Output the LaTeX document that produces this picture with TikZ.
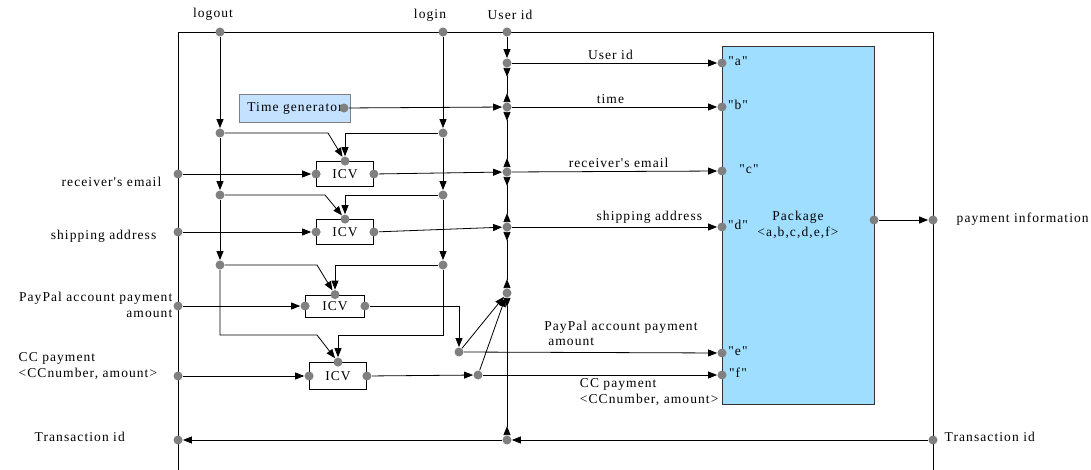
\documentclass[tikz,border=0pt]{standalone}
\usepackage{fontspec}
\setmainfont{Liberation Serif}[LetterSpace=8, Ligatures=TeXOff]
\usetikzlibrary{arrows.meta}
\usetikzlibrary{positioning}

\definecolor{pkgblue}{RGB}{160,222,255}
\definecolor{tgblue}{RGB}{196,226,255}

\begin{document}
\begin{tikzpicture}[x=1pt, y=-1pt, line width=0.8pt,
        >={Triangle[length=9pt, width=7pt]},
        every node/.style={font=\fontsize{13.5}{15.5}\selectfont},
        P/.style={circle, fill=gray, inner sep=0pt, minimum size=9pt},
        icv/.style={draw, fill=white, minimum width=57pt, minimum height=25pt, inner sep=0pt},
        tgen/.style={draw=gray, fill=tgblue, minimum width=111pt, minimum height=28pt, inner sep=0pt},
        pkg/.style={draw=black!80, fill=pkgblue, minimum width=152pt, minimum height=358pt, align=center},
        bus/.style={>-<}
    ]

    \def\xl{178}
    \def\xr{933}
    \def\xo{220}
    \def\xn{443}
    \def\xb{507}
    \def\xp{722}
    \def\yt{32}
    \def\yb{470}

    \useasboundingbox (0,0) rectangle (1091,470);

    % frame
    \draw (\xl,\yb) -- (\xl,\yt) -- (\xr,\yt) -- (\xr,\yb);

    \node[pkg] (pkg) at (798,225) {Package\\<a,b,c,d,e,f>};
    \node[tgen] (tg) at (295,108) {Time generator};
    \node[P] (tgo) at (344,108) {};

    \node[icv] (i1) at (345,174) {ICV};
    \node[icv] (i2) at (345,232) {ICV};
    \node[icv, minimum width=59pt, minimum height=22pt] (i3) at (335,306) {ICV};
    \node[icv, minimum height=27pt] (i4) at (338,376) {ICV};
    \foreach \i in {1,...,4}{
        \node[P] (iw\i) at (i\i.west) {};
        \node[P] (ie\i) at (i\i.east) {};
        \node[P] (in\i) at (i\i.north) {};
    }

    % ports of the package
    \foreach \n/\y/\dx in {a/63/16, b/107/16, c/171/27, d/227/16, e/353/16, f/375/16}{
        \node[P] (p\n) at (\xp,\y) {};
        \node (l\n) at (\xp+\dx,\y-2) {"\n"};
    }

    % top inputs
    \node (tout) at (213,14) {logout};
    \node (tin) at (430,15) {login};
    \node (tuid) at (510,15) {User id};
    \foreach \n/\y in {0/32, 1/133, 2/195, 3/265}{
        \node[P] (o\n) at (\xo,\y) {};
        \node[P] (n\n) at (\xn,\y) {};
    }
    \foreach \a/\b in {0/1, 1/2, 2/3}{
        \draw[->] (o\a) -- (o\b);
        \draw[->] (n\a) -- (n\b);
    }
    \foreach \n/\d in {1/108, 2/105, 3/97}{
        \draw[->] (o\n) -- ++(\d,0) -- (in\n);
        \draw[->] (n\n) -| (in\n);
    }
    \draw[->] (o3) -- ++(0,70) -- ++(97,0) -- (in4);
    \draw[->] (n3) -- ++(0,70) -| (in4);

    % left inputs
    \foreach \n/\y in {1/174, 2/232, 3/306, 4/376}{
        \node[P] (x\n) at (\xl,\y) {};
        \draw[->] (x\n) -- (iw\n);
    }
    \node[anchor=east] (lx1) at (165,182) {receiver's email};
    \node[anchor=east] (lx2) at (160,236) {shipping address};
    \node[anchor=east, align=right] (lx3) at (176,305) {PayPal account payment\\amount};
    \node[anchor=west, align=left] (lx4) at (15,366) {CC payment\\<CCnumber, amount>};

    % bus
    \node[P] (u) at (\xb,\yt) {};
    \foreach \n/\y in {0/63, 1/107, 2/172, 3/227, 4/293, 5/440}{
        \node[P] (b\n) at (\xb,\y) {};
    }
    \draw[->] (u) -- (b0);
    \foreach \a/\b in {0/1, 1/2, 2/3, 3/4, 4/5}
        \draw[bus] (b\a) -- (b\b);

    \draw[->] (tgo) -- (b1);
    \draw[->] (ie1) -- (b2);
    \draw[->] (ie2) -- (b3);

    \node[P] (pp) at (459,352) {};
    \node[P] (qq) at (478,375) {};
    \draw[->] (ie3) -| (pp);
    \draw[->] (ie4) -- (qq);
    \draw[->] (pp) -- (b4);
    \draw[->] (qq) -- (b4);

    \draw[->] (b0) -- node[above, pos=0.48] {User id} (pa);
    \draw[->] (b1) -- node[above, pos=0.48] {time} (pb);
    \draw[->] (b2) -- node[above, pos=0.52] {receiver's email} (pc);
    \draw[->] (b3) -- node[above, pos=0.67] {shipping address} (pd);
    \draw[->] (pp) -- node[above=3pt, pos=0.62, align=left] {PayPal account payment\\\hspace{4pt}amount} (pe);
    \draw[->] (qq) -- node[below, pos=0.71, align=left] {CC payment\\<CCnumber, amount>} (pf);

    % outputs
    \node[P] (pko) at (874,220) {};
    \node[P] (pi) at (\xr,220) {};
    \draw[->] (pko) -- (pi);
    \node[anchor=west] (lpi) at (953,219) {payment information};

    \node[P] (tr) at (\xr,440) {};
    \node[P] (tl) at (\xl,440) {};
    \draw[->] (tr) -- (b5);
    \draw[->] (b5) -- (tl);
    \node[anchor=west] (ltl) at (31,437) {Transaction id};
    \node[anchor=west] (ltr) at (941,437) {Transaction id};
\end{tikzpicture}
\end{document}
